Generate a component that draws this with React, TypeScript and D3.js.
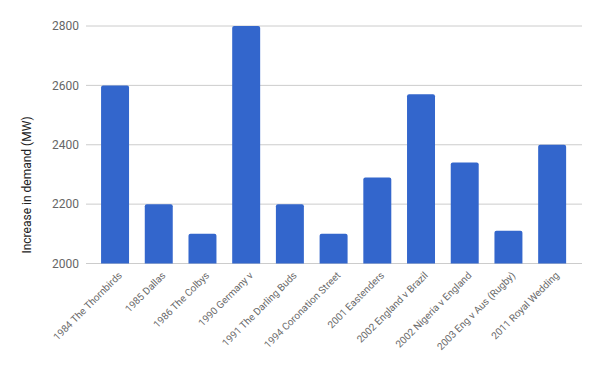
import React from "react";
import * as d3 from "d3";

const categories = [
  "1984 The Thornbirds",
  "1985 Dallas",
  "1986 The Colbys",
  "1990 Germany v",
  "1991 The Darling Buds",
  "1994 Coronation Street",
  "2001 Eastenders",
  "2002 England v Brazil",
  "2002 Nigeria v England",
  "2003 Eng v Aus (Rugby)",
  "2011 Royal Wedding",
];
const values = [2600, 2200, 2100, 2800, 2200, 2100, 2290, 2570, 2340, 2110, 2400];
const yTicks = [2000, 2200, 2400, 2600, 2800];
const yTitle = "Increase in demand (MW)";

const W = 600;
const H = 371;
const top = 26;
const bottom = 263.5;
const bandLeft = 93.2;
const bandRight = 574;
const gridLeft = 86;
const gridRight = 582;

export default function App() {
  const x = d3.scaleBand<string>().domain(categories).range([bandLeft, bandRight]).paddingInner(0.36).paddingOuter(0.18);
  const y = d3.scaleLinear().domain([2000, 2800]).range([bottom, top]);
  const font = "Roboto, 'Noto Sans', Arial, sans-serif";
  const bw = x.bandwidth();
  const r = 2;
  return (
    <svg width={W} height={H} style={{ position: "absolute", left: 0, top: 0, background: "#fff" }} fontFamily={font}>
      {yTicks.map((t) => (
        <g key={t}>
          <line x1={gridLeft} x2={gridRight} y1={y(t)} y2={y(t)} stroke="#cccccc" strokeWidth={1} />
          <text x={79} y={y(t)} dy="0.35em" textAnchor="end" fontSize={12} fill="#666">
            {t}
          </text>
        </g>
      ))}
      {categories.map((c, i) => {
        const x0 = x(c)!;
        const yt = y(values[i]);
        const yb = y(2000);
        const d = `M${x0},${yb} L${x0},${yt + r} Q${x0},${yt} ${x0 + r},${yt} L${x0 + bw - r},${yt} Q${x0 + bw},${yt} ${x0 + bw},${yt + r} L${x0 + bw},${yb} Z`;
        return <path key={c} d={d} fill="#3366cc" />;
      })}
      {categories.map((c) => {
        const cx = x(c)! + bw / 2 + 5;
        return (
          <text key={c} transform={`translate(${cx},${bottom + 10}) rotate(-45)`} textAnchor="end" dy="0.35em" fontSize={10} fill="#6a6a6a">
            {c}
          </text>
        );
      })}
      <text transform={`translate(31,185) rotate(-90)`} textAnchor="middle" fontSize={12} fill="#222">
        {yTitle}
      </text>
    </svg>
  );
}
